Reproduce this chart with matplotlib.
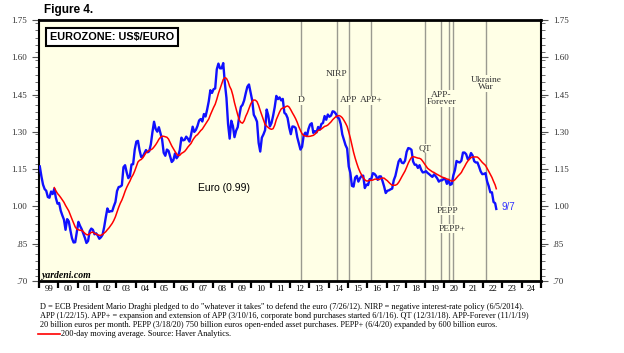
import numpy as np
import pandas as pd
import matplotlib
matplotlib.use("Agg")
import matplotlib.pyplot as plt
from matplotlib.ticker import MultipleLocator, FixedLocator

# monthly average US$/euro, Jan 1999 .. Sep 2022 (last = 9/7)
euro = [
    1.161, 1.121, 1.088, 1.070, 1.063, 1.038, 1.035, 1.060, 1.050, 1.071, 1.034, 1.011,  # 1999
    1.014, 0.983, 0.964, 0.947, 0.906, 0.949, 0.940, 0.904, 0.872, 0.855, 0.856, 0.897,  # 2000
    0.938, 0.922, 0.909, 0.892, 0.874, 0.853, 0.861, 0.900, 0.911, 0.906, 0.888, 0.892,  # 2001
    0.883, 0.870, 0.876, 0.886, 0.917, 0.956, 0.992, 0.978, 0.981, 0.981, 1.001, 1.018,  # 2002
    1.062, 1.078, 1.080, 1.085, 1.158, 1.166, 1.137, 1.114, 1.122, 1.169, 1.170, 1.229,  # 2003
    1.261, 1.264, 1.226, 1.199, 1.201, 1.214, 1.227, 1.218, 1.222, 1.250, 1.299, 1.341,  # 2004
    1.312, 1.301, 1.319, 1.294, 1.270, 1.216, 1.204, 1.229, 1.224, 1.202, 1.179, 1.186,  # 2005
    1.213, 1.194, 1.203, 1.227, 1.277, 1.266, 1.268, 1.281, 1.273, 1.261, 1.288, 1.321,  # 2006
    1.300, 1.308, 1.324, 1.346, 1.352, 1.342, 1.372, 1.362, 1.390, 1.423, 1.468, 1.457,  # 2007
    1.472, 1.475, 1.552, 1.575, 1.556, 1.556, 1.577, 1.497, 1.437, 1.332, 1.273, 1.345,  # 2008
    1.324, 1.279, 1.305, 1.319, 1.365, 1.401, 1.409, 1.427, 1.456, 1.482, 1.491, 1.458,  # 2009
    1.427, 1.369, 1.357, 1.341, 1.256, 1.221, 1.277, 1.290, 1.307, 1.390, 1.366, 1.322,  # 2010
    1.336, 1.365, 1.400, 1.445, 1.432, 1.439, 1.427, 1.433, 1.377, 1.371, 1.356, 1.318,  # 2011
    1.291, 1.322, 1.321, 1.316, 1.279, 1.254, 1.229, 1.240, 1.286, 1.297, 1.283, 1.312,  # 2012
    1.330, 1.335, 1.296, 1.303, 1.298, 1.320, 1.309, 1.332, 1.336, 1.364, 1.349, 1.370,  # 2013
    1.361, 1.366, 1.383, 1.381, 1.373, 1.359, 1.354, 1.332, 1.290, 1.268, 1.247, 1.233,  # 2014
    1.161, 1.135, 1.083, 1.080, 1.116, 1.123, 1.100, 1.114, 1.123, 1.124, 1.074, 1.088,  # 2015
    1.086, 1.110, 1.110, 1.134, 1.131, 1.123, 1.107, 1.121, 1.121, 1.102, 1.080, 1.054,  # 2016
    1.063, 1.065, 1.069, 1.072, 1.106, 1.123, 1.153, 1.181, 1.191, 1.176, 1.174, 1.184,  # 2017
    1.220, 1.235, 1.233, 1.228, 1.181, 1.168, 1.168, 1.155, 1.166, 1.148, 1.137, 1.138,  # 2018
    1.142, 1.135, 1.130, 1.124, 1.119, 1.129, 1.122, 1.113, 1.100, 1.105, 1.105, 1.111,  # 2019
    1.110, 1.091, 1.106, 1.087, 1.090, 1.125, 1.146, 1.183, 1.179, 1.177, 1.184, 1.217,  # 2020
    1.217, 1.210, 1.190, 1.196, 1.215, 1.205, 1.182, 1.177, 1.177, 1.160, 1.141, 1.130,  # 2021
    1.131, 1.134, 1.101, 1.082, 1.057, 1.057, 1.018, 1.013, 0.990,                       # 2022
]

# event lines (decimal year) and labels
events = [2012.57, 2014.43, 2015.06, 2016.19, 2018.99, 2019.83, 2020.21, 2020.42, 2022.15]
event_labels = [
    ("D", 2012.57, 1.427),
    ("NIRP", 2014.43, 1.532),
    ("APP", 2015.06, 1.427),
    ("APP+", 2016.22, 1.427),
    ("QT", 2018.99, 1.233),
    ("APP-\nForever", 2019.83, 1.435),
    ("PEPP", 2020.15, 0.983),
    ("PEPP+", 2020.42, 0.91),
    ("Ukraine\nWar", 2022.15, 1.495),
]

year_labels = ["99"] + [f"{y:02d}" for y in range(0, 25)]
yticks = [0.70, 0.85, 1.00, 1.15, 1.30, 1.45, 1.60, 1.75]
ytick_labels = [".70", ".85", "1.00", "1.15", "1.30", "1.45", "1.60", "1.75"]

n = len(euro)
x = 1999 + (np.arange(n) + 0.5) / 12
x[-1] = 2022 + 8.2 / 12
ma = pd.Series(euro).rolling(10).mean()

serif = "Liberation Serif"
sans = "Liberation Sans"

fig = plt.figure(figsize=(6.24, 3.53), dpi=100)
ax = fig.add_axes([0.0625, 0.204, 0.8045, 0.739])
ax.set_facecolor("#ffffe6")

for ev in events:
    ax.axvline(ev, color="#9a9a90", lw=1.0, zorder=1)

ax.plot(x, euro, color="#1010ff", lw=1.7, zorder=3)
ax.plot(x, ma, color="#ff0000", lw=1.1, zorder=4)

for label, ex, ey in event_labels:
    ax.text(ex, ey, label, ha="center", va="center", fontsize=6.8, family=serif,
            color="#333333", linespacing=0.95, zorder=2,
            bbox=dict(facecolor="#ffffe6", edgecolor="none", pad=0.3))

ax.text(2008.6, 1.075, "Euro (0.99)", ha="center", va="center", fontsize=7.5, family=sans)
ax.text(2022.95, 0.998, "9/7", ha="left", va="center", fontsize=7, family=sans, color="#3333ff")
ax.text(1999.15, 0.703, "yardeni.com", ha="left", va="bottom", fontsize=7,
        family=serif, style="italic", weight="bold")
ax.text(0.022, 0.955, "EUROZONE: US$/EURO", transform=ax.transAxes, ha="left", va="top",
        fontsize=7.8, family=sans, weight="bold",
        bbox=dict(facecolor="white", edgecolor="black", lw=1.5, boxstyle="square,pad=0.35"))

ax.set_xlim(1999, 2025)
ax.set_ylim(0.70, 1.75)

ax.xaxis.set_major_locator(FixedLocator(np.arange(1999, 2026)))
ax.xaxis.set_minor_locator(FixedLocator(np.arange(1999, 2025) + 0.5))
ax.set_xticklabels([])
ax.set_xticklabels(year_labels, minor=True)
ax.tick_params(axis="x", which="major", direction="out", length=5, width=1.6, color="black")
ax.tick_params(axis="x", which="minor", length=0, pad=3, labelsize=6.5)
for t in ax.get_xticklabels(minor=True):
    t.set_family(serif)

ax.set_yticks(yticks)
ax.set_yticklabels(ytick_labels)
ax.yaxis.set_minor_locator(MultipleLocator(0.03))
ax.tick_params(axis="y", which="both", left=True, right=True, labelleft=True, labelright=True,
               labelsize=6.5, color="#555555")
ax.tick_params(axis="y", which="major", length=5, width=0.8)
ax.tick_params(axis="y", which="minor", length=3, width=0.6)
for t in ax.get_yticklabels():
    t.set_family(serif)
    t.set_color("#333333")

for side in ["top", "bottom"]:
    ax.spines[side].set_linewidth(2.0)
for side in ["left", "right"]:
    ax.spines[side].set_linewidth(1.5)

fig.text(0.07, 0.972, "Figure 4.", ha="left", va="center", fontsize=8.5, family=sans, weight="bold")

notes = [
    'D = ECB President Mario Draghi pledged to do "whatever it takes" to defend the euro (7/26/12). NIRP = negative interest-rate policy (6/5/2014).',
    "APP (1/22/15). APP+ = expansion and extension of APP (3/10/16, corporate bond purchases started 6/1/16). QT (12/31/18). APP-Forever (11/1/19)",
    "20 billion euros per month. PEPP (3/18/20) 750 billion euros open-ended asset purchases. PEPP+ (6/4/20) expanded by 600 billion euros.",
]
for i, line in enumerate(notes):
    fig.text(0.064, 1 - (307 + 9 * i) / 353, line, ha="left", va="center", fontsize=5.95, family=serif)
fig.add_artist(plt.Line2D([38 / 624, 60 / 624], [1 - 334 / 353] * 2, color="red", lw=1.2))
fig.text(61 / 624, 1 - 334 / 353, "200-day moving average. Source: Haver Analytics.",
         ha="left", va="center", fontsize=5.95, family=serif)

fig.savefig("out.png", dpi=100)
